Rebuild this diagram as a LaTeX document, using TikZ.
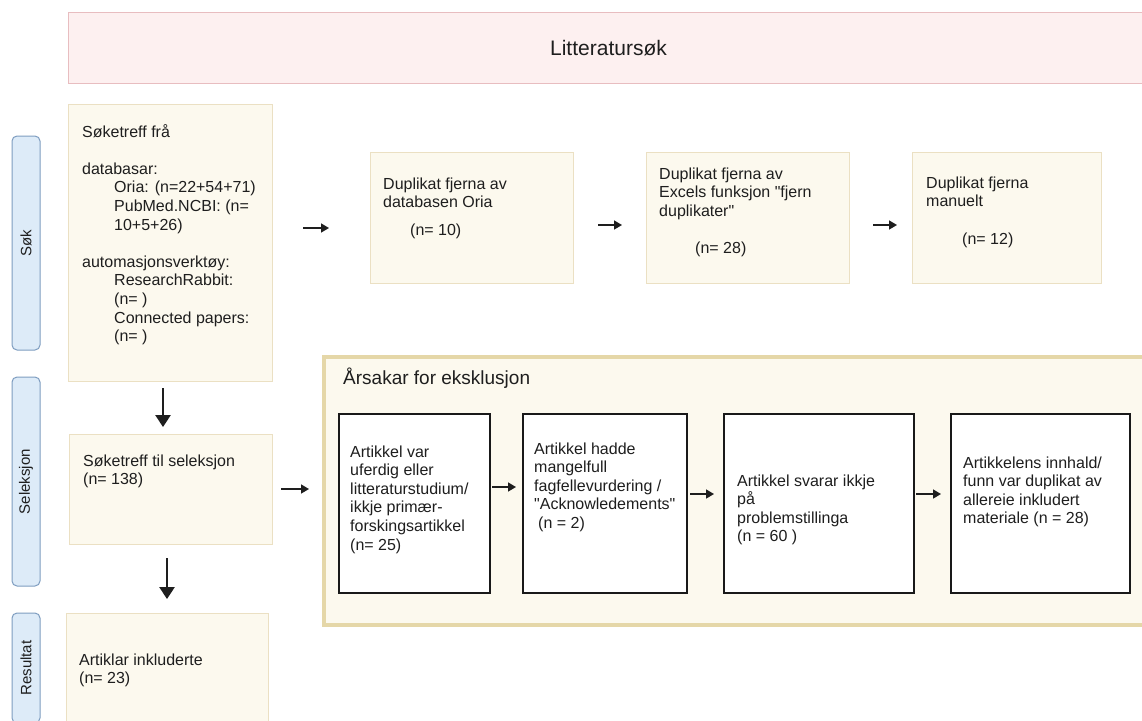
\documentclass[tikz,border=0pt]{standalone}
\usepackage{fontspec}
\setmainfont{Liberation Sans}[Ligatures=TeXOff]
\usetikzlibrary{arrows.meta}
\definecolor{pinkfill}{HTML}{FDF0F0}
\definecolor{pinkdraw}{HTML}{E8BDC0}
\definecolor{bluefill}{HTML}{DDEBF8}
\definecolor{bluedraw}{HTML}{7E9DC0}
\definecolor{creamfill}{HTML}{FCF9EE}
\definecolor{creamdraw}{HTML}{EBE0C3}
\definecolor{contdraw}{HTML}{E5D7A8}
\definecolor{textc}{HTML}{1E1E1E}
\begin{document}
\begin{tikzpicture}[x=1pt,y=-1pt,
  cbox/.style={draw=creamdraw, fill=creamfill, line width=1pt, anchor=north west, inner sep=0pt, outer sep=0pt},
  wbox/.style={draw=black!90, fill=white, line width=1.2pt, anchor=north west, inner sep=0pt, outer sep=0pt},
  lbl/.style={draw=bluedraw, fill=bluefill, line width=1pt, rounded corners=5pt, rotate=90, inner sep=0pt,
    font=\fontsize{15}{18}\selectfont, text=textc},
  txt/.style={anchor=north west, align=left, inner sep=0pt, font=\fontsize{16}{18.6}\selectfont, text=textc},
  sarr/.style={line width=1.6pt, draw=textc, -{Triangle[length=8pt,width=9pt]}},
  darr/.style={line width=2.8pt, draw=textc, -{Triangle[length=12pt,width=15pt]}}
]
\clip (0,0) rectangle (1142,720);
\fill[white] (0,0) rectangle (1142,720);

% title
\node[draw=pinkdraw, fill=pinkfill, line width=1pt, anchor=north west, inner sep=0pt,
  minimum width=1080pt, minimum height=71pt, font=\fontsize{21}{24}\selectfont, text=textc]
  (title) at (68,12) {Litteratursøk};

% side labels
\node[lbl, minimum width=214pt, minimum height=28pt] (lsok) at (26,243) {Søk};
\node[lbl, minimum width=209pt, minimum height=28pt] (lsel) at (26,481.5) {Seleksjon};
\node[lbl, minimum width=110pt, minimum height=28pt] (lres) at (26,668) {Resultat};

% left column
\node[cbox, minimum width=204pt, minimum height=277pt] (b1) at (68,104) {};
\node[txt] (t1) at (82,123.8) {\strut Søketreff frå\\[18.6pt]
databasar:\\
\hspace*{32pt}Oria: (n=22+54+71)\\
\hspace*{32pt}PubMed.NCBI: (n=\\
\hspace*{32pt}10+5+26)\\[18.6pt]
automasjonsverktøy:\\
\hspace*{32pt}ResearchRabbit:\\
\hspace*{32pt}(n= )\\
\hspace*{32pt}Connected papers:\\
\hspace*{32pt}(n= )};

\node[cbox, minimum width=203pt, minimum height=110pt] (b2) at (69,434) {};
\node[txt] (t2) at (83,452.8) {\strut Søketreff til seleksjon\\(n= 138)};

\node[cbox, minimum width=202pt, minimum height=130pt] (b3) at (66,613) {};
\node[txt] (t3) at (79,651.8) {\strut Artiklar inkluderte\\(n= 23)};

% duplicate boxes
\node[cbox, minimum width=203pt, minimum height=131pt] (da) at (370,152) {};
\node[txt] (tda) at (383,175.8) {\strut Duplikat fjerna av\\databasen Oria\\[9pt]\hspace*{27pt}(n= 10)};
\node[cbox, minimum width=203pt, minimum height=131pt] (db) at (646,152) {};
\node[txt] (tdb) at (659,165.8) {\strut Duplikat fjerna av\\Excels funksjon "fjern\\duplikater"\\[19pt]\hspace*{36pt}(n= 28)};
\node[cbox, minimum width=189pt, minimum height=131pt] (dc) at (912,152) {};
\node[txt] (tdc) at (926,174.8) {\strut Duplikat fjerna\\manuelt\\[19pt]\hspace*{36pt}(n= 12)};

% exclusion container
\node[draw=contdraw, fill=creamfill, line width=3.5pt, anchor=north west, inner sep=0pt,
  minimum width=840pt, minimum height=268pt] (excl) at (322,355) {};
\node[anchor=west, inner sep=0pt, font=\fontsize{19}{22}\selectfont, text=textc] (exh) at (343,378) {Årsakar for eksklusjon};

\node[wbox, minimum width=151pt, minimum height=179pt] (e1) at (339,414) {};
\node[txt] (te1) at (350,443.8) {\strut Artikkel var\\uferdig eller\\litteraturstudium/\\ikkje primær-\\forskingsartikkel\\(n= 25)};
\node[wbox, minimum width=164pt, minimum height=179pt] (e2) at (523,414) {};
\node[txt] (te2) at (534,440.8) {\strut Artikkel hadde\\mangelfull\\fagfellevurdering /\\"Acknowledements"\\\hspace*{4pt}(n = 2)};
\node[wbox, minimum width=190pt, minimum height=179pt] (e3) at (724,414) {};
\node[txt] (te3) at (737,472.8) {\strut Artikkel svarar ikkje\\på\\problemstillinga\\(n = 60 )};
\node[wbox, minimum width=179pt, minimum height=179pt] (e4) at (951,414) {};
\node[txt] (te4) at (963,454.8) {\strut Artikkelens innhald/\\funn var duplikat av\\allereie inkludert\\materiale (n = 28)};

% arrow end points
\coordinate (a1s) at (303,228); \coordinate (a1e) at (329,228);
\coordinate (a2s) at (598,225); \coordinate (a2e) at (622,225);
\coordinate (a3s) at (873,225); \coordinate (a3e) at (897,225);
\coordinate (d1s) at (163,388); \coordinate (d1e) at (163,427);
\coordinate (d2s) at (167,558); \coordinate (d2e) at (167,599);
\coordinate (r1s) at (281,489); \coordinate (r1e) at (309,489);
\coordinate (x1s) at (492,487); \coordinate (x1e) at (516,487);
\coordinate (x2s) at (690,494); \coordinate (x2e) at (714,494);
\coordinate (x3s) at (916,494); \coordinate (x3e) at (941,494);

\draw[sarr] (a1s) -- (a1e);
\draw[sarr] (a2s) -- (a2e);
\draw[sarr] (a3s) -- (a3e);
\draw[sarr] (r1s) -- (r1e);
\draw[sarr] (x1s) -- (x1e);
\draw[sarr] (x2s) -- (x2e);
\draw[sarr] (x3s) -- (x3e);
\draw[darr] (d1s) -- (d1e);
\draw[darr] (d2s) -- (d2e);
\end{tikzpicture}
\end{document}
